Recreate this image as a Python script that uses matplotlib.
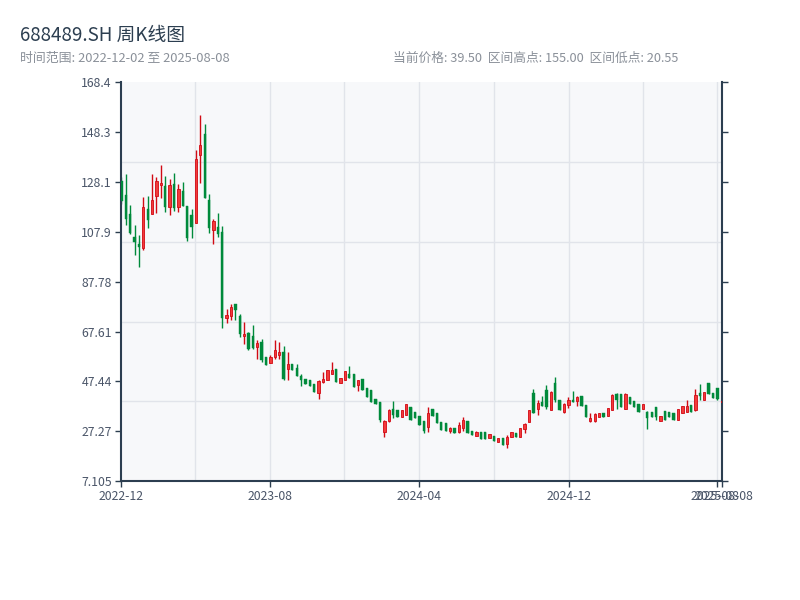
import matplotlib
matplotlib.use('Agg')
import matplotlib.pyplot as plt
import matplotlib.dates as mdates
import numpy as np
import pandas as pd

plt.rcParams['font.family'] = ['Noto Sans CJK SC', 'DejaVu Sans']

start_date = '2022-12-02'
end_date = '2025-08-08'

opens = [128.5, 122.7, 115.0, 105.9, 103.2, 101.2, 117.1, 115.3, 122.4, 126.8,
         126.4, 118.0, 127.4, 118.0, 124.3, 118.4, 114.6, 111.7, 139.2, 147.3,
         121.0, 108.8, 110.0, 107.9, 73.1, 73.9, 78.7, 74.0, 65.8, 67.1,
         66.0, 61.4, 63.4, 57.3, 55.0, 57.3, 58.0, 59.4, 52.3, 54.4,
         52.7, 49.5, 48.6, 47.9, 46.6, 42.8, 47.2, 48.2, 50.6, 52.3,
         46.8, 47.9, 50.4, 50.6, 45.9, 48.3, 44.6, 43.9, 40.5, 39.2,
         27.0, 31.5, 36.1, 35.8, 33.1, 33.8, 37.1, 35.1, 33.4, 31.5,
         29.1, 36.1, 34.7, 31.1, 30.7, 27.5, 28.8, 27.0, 28.8, 31.5,
         27.4, 25.3, 27.1, 26.9, 24.4, 25.3, 23.0, 24.4, 22.0, 24.8,
         26.6, 24.8, 28.4, 31.1, 42.8, 36.1, 39.2, 44.0, 36.0, 47.0,
         39.85, 35.0, 37.8, 40.1, 39.6, 41.5, 37.8, 31.5, 31.3, 33.0,
         34.7, 33.4, 35.8, 42.5, 42.5, 36.5, 41.2, 39.6, 38.2, 36.1,
         35.1, 35.1, 37.1, 31.5, 35.5, 35.1, 34.7, 32.0, 34.5, 35.1,
         37.8, 35.8, 42.8, 39.85, 46.8, 42.8, 44.9, 39.0]
highs = [130.0, 131.5, 118.7, 110.6, 106.5, 122.0, 122.4, 131.2, 130.1, 134.8,
         130.4, 129.2, 131.6, 127.2, 128.1, 118.4, 117.3, 140.9, 155.0, 151.4,
         123.4, 113.3, 115.7, 110.2, 76.6, 78.9, 78.7, 74.6, 71.5, 67.5,
         70.2, 64.1, 64.8, 57.3, 58.0, 64.1, 63.4, 61.7, 59.4, 54.4,
         54.4, 50.6, 48.6, 47.9, 46.6, 47.9, 51.3, 51.9, 55.3, 52.3,
         49.0, 51.6, 53.6, 50.6, 48.2, 48.3, 44.6, 43.9, 40.5, 39.2,
         32.0, 36.5, 39.6, 35.8, 35.8, 38.5, 37.1, 35.1, 33.4, 31.5,
         37.1, 36.1, 34.7, 31.1, 30.7, 29.1, 28.8, 31.1, 33.1, 31.5,
         27.4, 27.4, 27.1, 26.9, 26.1, 25.3, 24.4, 24.4, 25.7, 27.1,
         26.6, 28.8, 30.7, 35.8, 44.2, 39.85, 41.5, 45.9, 43.6, 49.3,
         40.1, 38.8, 41.2, 43.5, 41.5, 41.5, 37.8, 34.7, 34.5, 34.7,
         34.7, 36.9, 42.3, 42.8, 42.5, 42.9, 41.2, 39.6, 38.2, 38.5,
         35.5, 35.1, 37.1, 33.4, 35.5, 35.1, 34.7, 36.5, 37.4, 40.1,
         37.8, 44.5, 46.3, 43.2, 46.8, 42.8, 44.9, 41.9]
lows = [119.0, 110.6, 106.9, 98.5, 93.7, 100.5, 109.5, 115.3, 115.6, 121.6,
        116.0, 114.9, 116.3, 116.0, 118.4, 104.2, 105.5, 111.7, 127.8, 121.6,
        107.5, 103.2, 105.9, 69.0, 70.9, 72.2, 72.2, 65.4, 62.5, 60.3,
        60.7, 56.7, 55.3, 54.0, 54.7, 56.7, 56.7, 47.9, 47.9, 51.9,
        49.5, 45.5, 46.6, 45.5, 43.2, 40.5, 46.8, 48.0, 50.4, 47.2,
        46.8, 47.9, 49.0, 45.2, 43.6, 43.9, 41.2, 39.2, 38.2, 31.1,
        25.0, 31.1, 32.5, 32.9, 33.1, 33.8, 32.0, 32.5, 29.7, 26.6,
        27.1, 33.4, 30.7, 28.0, 27.4, 26.4, 26.6, 26.6, 27.4, 26.4,
        25.7, 25.3, 24.0, 24.0, 24.4, 23.4, 23.0, 21.7, 20.55, 24.8,
        24.8, 24.8, 26.6, 31.1, 34.5, 33.8, 37.4, 36.1, 35.8, 39.2,
        35.8, 34.7, 36.7, 39.2, 37.4, 37.4, 33.1, 31.1, 31.1, 32.9,
        32.9, 33.4, 35.8, 36.5, 37.1, 36.5, 38.5, 37.1, 35.1, 36.1,
        28.4, 33.1, 31.8, 31.5, 32.0, 32.9, 31.8, 32.0, 34.5, 35.1,
        35.1, 35.5, 40.1, 39.85, 42.5, 40.9, 39.85, 39.0]
closes = [120.5, 113.3, 107.5, 103.8, 101.8, 118.0, 112.6, 120.7, 128.4, 127.8,
          118.0, 126.8, 117.6, 125.4, 118.4, 105.5, 109.9, 137.3, 143.2, 121.6,
          109.3, 112.3, 107.2, 73.0, 74.5, 77.7, 76.2, 66.5, 66.8, 60.5,
          61.0, 62.8, 56.0, 54.0, 57.5, 60.1, 59.4, 48.6, 54.4, 51.9,
          49.5, 48.2, 46.6, 45.5, 43.2, 47.6, 48.6, 51.9, 51.9, 47.2,
          49.0, 51.6, 49.0, 45.2, 47.9, 43.9, 41.2, 39.2, 38.2, 32.0,
          31.5, 36.0, 33.8, 32.9, 35.8, 38.2, 32.0, 32.5, 29.7, 27.5,
          34.5, 33.4, 30.7, 28.0, 27.4, 28.5, 26.6, 29.7, 31.8, 26.4,
          25.7, 27.0, 24.0, 24.0, 26.1, 23.4, 24.4, 21.7, 25.0, 27.1,
          24.8, 28.5, 30.1, 35.8, 34.5, 38.8, 37.4, 37.0, 43.2, 40.0,
          36.0, 38.3, 40.1, 39.2, 41.2, 37.4, 33.1, 32.5, 34.2, 34.5,
          32.9, 36.9, 42.0, 40.1, 37.1, 42.5, 38.5, 37.1, 35.1, 38.5,
          32.5, 33.1, 33.0, 33.4, 32.0, 32.9, 31.8, 36.5, 37.4, 37.4,
          35.1, 41.9, 41.5, 43.2, 42.5, 40.9, 40.5, 39.5]

x_ticks = ['2022-12-01', '2023-08-01', '2024-04-01', '2024-12-01', '2025-08-01', '2025-08-08']
x_tick_labels = ['2022-12', '2023-08', '2024-04', '2024-12', '2025-08', '2025-08-08']
x_grid = ['2023-04-01', '2023-08-01', '2023-12-01', '2024-04-01', '2024-08-01',
          '2024-12-01', '2025-04-01', '2025-08-01']

o = np.array(opens)
h = np.array(highs)
l = np.array(lows)
c = np.array(closes)

# K线在起止日期之间按顺序等距排布
dates = pd.date_range(start_date, end_date, periods=len(opens))
x = mdates.date2num(dates)

up_edge = '#d10a14'
up_fill = '#f23b3b'
down_col = '#008a3b'
dark = '#2c3e50'

fig = plt.figure(figsize=(8, 6), dpi=100)
ax = fig.add_axes([0.151, 0.198, 0.752, 0.665])
ax.set_facecolor('#f7f8fa')

# 纵轴范围: 区间高低点上下各留 10%
lo, hi = l.min(), h.max()
pad = (hi - lo) * 0.1
ymin, ymax = lo - pad, hi + pad
ax.set_ylim(ymin, ymax)
ax.set_xlim(mdates.datestr2num('2022-12-01'), mdates.datestr2num('2025-08-09'))

# 网格
for f in [0.2, 0.4, 0.6, 0.8]:
    ax.axhline(ymin + f * (ymax - ymin), color='#e1e4ea', lw=1.0, zorder=0)
for d in x_grid:
    ax.axvline(mdates.datestr2num(d), color='#e1e4ea', lw=1.0, zorder=0)

# K线
up = c >= o
body_low = np.minimum(o, c)
body_h = np.maximum(np.abs(c - o), 0.25)
ax.vlines(x[up], l[up], h[up], color=up_edge, lw=1.0, zorder=2)
ax.vlines(x[~up], l[~up], h[~up], color=down_col, lw=1.0, zorder=2)
ax.bar(x[up], body_h[up], bottom=body_low[up], width=3.8, color=up_fill,
       edgecolor=up_edge, linewidth=0.6, zorder=3)
ax.bar(x[~up], body_h[~up], bottom=body_low[~up], width=3.8, color=down_col,
       edgecolor=down_col, linewidth=0.3, zorder=3)

# 坐标轴
yt = np.linspace(ymin, ymax, 9)
ax.set_yticks(yt)
ax.set_yticklabels([f'{v:.4g}' for v in yt])
ax.set_xticks([mdates.datestr2num(d) for d in x_ticks])
ax.set_xticklabels(x_tick_labels)
ax.tick_params(axis='both', labelsize=8.8, colors=dark, labelcolor='#4a5568',
               length=4, width=1, pad=2.5)
ax.tick_params(axis='y', right=True, labelright=False)
for side in ['left', 'bottom', 'right']:
    ax.spines[side].set_color(dark)
    ax.spines[side].set_linewidth(1.5)
ax.spines['top'].set_visible(False)

# 标题
fig.text(0.025, 1 - 35 / 600, '688489.SH 周K线图', fontsize=13.5, color=dark, va='center')
fig.text(0.025, 1 - 58 / 600,
         f'时间范围: {start_date} 至 {end_date}',
         fontsize=9.3, color='#8a9099', va='center')
fig.text(393 / 800, 1 - 58 / 600,
         f'当前价格: {c[-1]:.2f}  区间高点: {hi:.2f}  区间低点: {lo:.2f}',
         fontsize=9.2, color='#8a9099', va='center')

fig.savefig('out.png', dpi=100)
